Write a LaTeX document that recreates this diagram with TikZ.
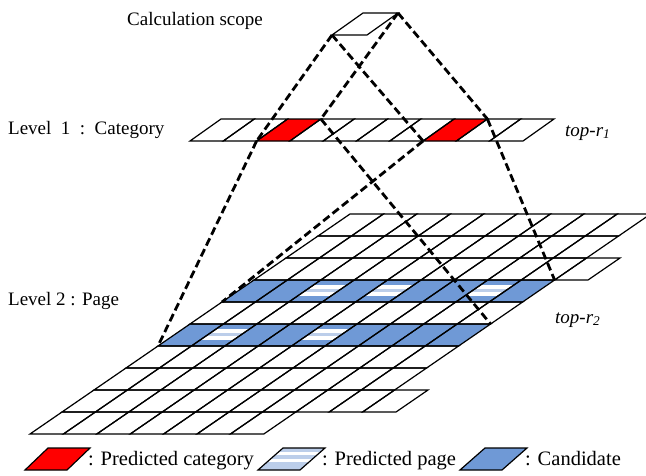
\documentclass[tikz,border=0pt]{standalone}
\usepackage{fontspec}
\setmainfont{Liberation Serif}
\usetikzlibrary{positioning}
\definecolor{candblue}{RGB}{111,153,214}
\definecolor{paleblue}{RGB}{188,206,234}
\tikzset{
  gcell/.style={draw, line width=1.2pt, line join=miter},
  projline/.style={draw, line width=2.8pt, dash pattern=on 8pt off 4pt},
  ptxt/.style={font=\fontsize{19}{22}\selectfont, inner sep=0pt, anchor=base west},
  legtxt/.style={font=\fontsize{20.5}{24}\selectfont, inner sep=0pt, anchor=base west},
  legshape/.style={draw, line width=1.2pt}
}

\begin{document}
\begin{tikzpicture}[x=1pt,y=-1pt]
\useasboundingbox (0,0) rectangle (646,475);
\node[ptxt] (scopetxt) at (127,25) {Calculation scope};
\node[ptxt] (cattxt) at (8,134) {Level\ \ 1\ \ :\ \ Category};
\node[ptxt] (pagetxt) at (8,305) {Level 2 : Page};
\node[ptxt] (topone) at (565,136) {\textit{top-r\textsubscript{1}}};
\node[ptxt] (toptwo) at (555,323) {\textit{top-r\textsubscript{2}}};
% calculation scope
\draw[gcell] (332,35) -- (367,35) -- (398,13) -- (363,13) -- cycle;
\coordinate (scopeBL) at (332,35);
\coordinate (scopeTR) at (398,13);
% level 1
\foreach \i in {2,7}
  \fill[red] ({190+33.3*\i},141) -- ++(33.3,0) -- ++(31,-22) -- ++(-33.3,0) -- cycle;
\foreach \i in {0,...,9}
  \draw[gcell] ({190+33.3*\i},141) -- ++(33.3,0) -- ++(31,-22) -- ++(-33.3,0) -- cycle;
\coordinate (catAbl) at ({190+2*33.3},141);
\coordinate (catAtr) at ({190+31+3*33.3},119);
\coordinate (catBbl) at ({190+7*33.3},141);
\coordinate (catBtr) at ({190+31+8*33.3},119);
% level 2
\foreach \k in {4,6}
  \foreach \i in {0,...,8}
    \fill[candblue] ({30+33.4*\i+32*\k},{434-22*\k}) -- ++(33.4,0) -- ++(32,-22) -- ++(-33.4,0) -- cycle;
\foreach \i/\k in {2/6,4/6,7/6,1/4,4/4} {
  \begin{scope}
    \clip ({30+33.4*\i+32*\k},{434-22*\k}) -- ++(33.4,0) -- ++(32,-22) -- ++(-33.4,0) -- cycle;
    \fill[white] (0,{417-22*\k}) rectangle (646,{421-22*\k});
    \fill[paleblue] (0,{421-22*\k}) rectangle (646,{424-22*\k});
    \fill[white] (0,{424-22*\k}) rectangle (646,{428-22*\k});
  \end{scope}
}
\foreach \n [count=\k from 0] in {7,10,9,9,9,9,9,10,9,9}
  \foreach \i in {1,...,\n}
    \draw[gcell] ({30+33.4*(\i-1)+32*\k},{434-22*\k}) -- ++(33.4,0) -- ++(32,-22) -- ++(-33.4,0) -- cycle;
\coordinate (pageAbl) at (158,346);
\coordinate (pageAtr) at ({30+33.4*9+32*5},324);
\coordinate (pageBbl) at (222,302);
\coordinate (pageBtr) at ({30+33.4*9+32*7},280);
% projections
\draw[projline] (scopeBL) -- (catAbl);
\draw[projline] (scopeTR) -- (catAtr);
\draw[projline] (scopeBL) -- (catBbl);
\draw[projline] (scopeTR) -- (catBtr);
\draw[projline] (catAbl) -- (pageAbl);
\draw[projline] (catAtr) -- (pageAtr);
\draw[projline] (catBbl) -- (pageBbl);
\draw[projline] (catBtr) -- (pageBtr);
% legend
\fill[red] (25,470) -- (67,470) -- (90,448) -- (48,448) -- cycle;
\draw[legshape] (25,470) -- (67,470) -- (90,448) -- (48,448) -- cycle;
\node[legtxt] (legcat) at (88,465) {: Predicted category};
\begin{scope}
  \clip (258,470) -- (300,470) -- (325,448) -- (283,448) -- cycle;
  \fill[paleblue] (250,446) rectangle (330,472);
  \fill[white] (250,452) rectangle (330,455);
  \fill[white] (250,459) rectangle (330,462);
\end{scope}
\draw[legshape] (258,470) -- (300,470) -- (325,448) -- (283,448) -- cycle;
\node[legtxt] (legpage) at (322,465) {: Predicted page};
\fill[candblue] (460,470) -- (502,470) -- (527,448) -- (485,448) -- cycle;
\draw[legshape] (460,470) -- (502,470) -- (527,448) -- (485,448) -- cycle;
\node[legtxt] (legcand) at (525,465) {: Candidate};
\end{tikzpicture}
\end{document}
